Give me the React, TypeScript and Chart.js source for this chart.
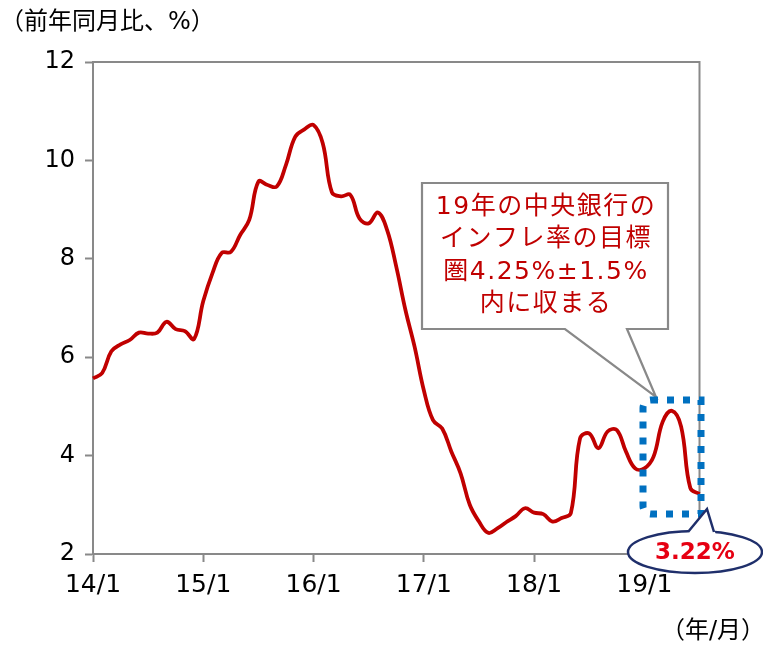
import React, { useEffect, useRef } from 'react';
import { Chart, registerables } from 'chart.js';

Chart.register(...registerables);

// ---- data ----
const years: string[] = ['14', '15', '16', '17', '18', '19'];
const monthsInLastYear = 7; // 19/1 .. 19/7
const categories: string[] = [];
years.forEach((y, yi) => {
  const n = yi === years.length - 1 ? monthsInLastYear : 12;
  for (let m = 1; m <= n; m++) categories.push(`${y}/${m}`);
});

const inflation: number[] = [
  5.57, 5.68, 6.12, 6.26, 6.35, 6.50, 6.48, 6.50, 6.72, 6.57, 6.53, 6.37,
  7.14, 7.71, 8.12, 8.14, 8.48, 8.79, 9.57, 9.50, 9.47, 9.91, 10.48, 10.63,
  10.72, 10.35, 9.35, 9.27, 9.30, 8.82, 8.72, 8.94, 8.59, 7.84, 6.96, 6.21,
  5.33, 4.72, 4.55, 4.08, 3.64, 3.00, 2.66, 2.43, 2.52, 2.65, 2.77, 2.93,
  2.84, 2.81, 2.66, 2.73, 2.83, 4.35, 4.45, 4.15, 4.49, 4.52, 4.08, 3.74,
  3.74, 3.98, 4.69, 4.91, 4.59, 3.34, 3.22,
];

const yTicks: number[] = [2, 4, 6, 8, 10, 12];
const yAxisTitle = '（前年同月比、%）';
const xAxisTitle = '（年/月）';
const calloutLines: string[] = ['19年の中央銀行の', 'インフレ率の目標', '圏4.25%±1.5%', '内に収まる'];
const lastLabel = '3.22%';

const GRAY = '#898989';
const RED = '#C00000';
const FONT = "'DejaVu Sans', 'Noto Sans CJK JP', sans-serif";

const decorPlugin = {
  id: 'decor',
  beforeDatasetsDraw(chart: any) {
    const { ctx, chartArea } = chart;
    ctx.save();
    ctx.strokeStyle = GRAY;
    ctx.lineWidth = 2;
    ctx.beginPath();
    ctx.moveTo(chartArea.left, chartArea.top);
    ctx.lineTo(chartArea.right, chartArea.top);
    ctx.lineTo(chartArea.right, chartArea.bottom);
    ctx.stroke();
    ctx.restore();
  },
  afterDraw(chart: any) {
    const { ctx } = chart;
    ctx.save();
    // axis titles
    ctx.fillStyle = '#000';
    ctx.font = `24px ${FONT}`;
    ctx.textBaseline = 'middle';
    ctx.textAlign = 'left';
    ctx.fillText(yAxisTitle, 0, 23);
    ctx.font = `24px ${FONT}`;
    ctx.textAlign = 'right';
    ctx.fillText(xAxisTitle, 765, 632);

    // callout box with tail
    ctx.beginPath();
    ctx.moveTo(422, 183);
    ctx.lineTo(668, 183);
    ctx.lineTo(668, 329);
    ctx.lineTo(627, 329);
    ctx.lineTo(656, 397);
    ctx.lineTo(565, 329);
    ctx.lineTo(422, 329);
    ctx.closePath();
    ctx.fillStyle = '#fff';
    ctx.fill();
    ctx.strokeStyle = GRAY;
    ctx.lineWidth = 2.2;
    ctx.stroke();

    ctx.fillStyle = RED;
    ctx.font = `25px ${FONT}`;
    (ctx as any).letterSpacing = '1.5px';
    ctx.textAlign = 'center';
    const lineYs = [207, 239, 272, 304];
    calloutLines.forEach((t, i) => ctx.fillText(t, 546, lineYs[i]));
    (ctx as any).letterSpacing = '0px';

    // dotted rounded rectangle
    ctx.beginPath();
    const rx0 = 643, ry0 = 400, rx1 = 701, ry1 = 514, r = 8;
    ctx.moveTo(rx0 + r, ry0);
    ctx.lineTo(rx1, ry0);
    ctx.lineTo(rx1, ry1);
    ctx.lineTo(rx0 + r, ry1);
    ctx.arcTo(rx0, ry1, rx0, ry1 - r, r);
    ctx.lineTo(rx0, ry0 + r);
    ctx.arcTo(rx0, ry0, rx0 + r, ry0, r);
    ctx.closePath();
    ctx.setLineDash([7, 9]);
    ctx.strokeStyle = '#0070C0';
    ctx.lineWidth = 7;
    ctx.stroke();
    ctx.setLineDash([]);

    // ellipse label
    const cx = 695, cy = 552, ex = 67, ey = 21;
    ctx.beginPath();
    ctx.ellipse(cx, cy, ex, ey, 0, 0, Math.PI * 2);
    ctx.fillStyle = '#fff';
    ctx.fill();
    ctx.strokeStyle = '#1F2F6B';
    ctx.lineWidth = 2.5;
    ctx.stroke();
    ctx.beginPath();
    ctx.moveTo(686, 535);
    ctx.lineTo(707, 509);
    ctx.lineTo(716, 535);
    ctx.closePath();
    ctx.fillStyle = '#fff';
    ctx.fill();
    ctx.beginPath();
    ctx.moveTo(688, 532);
    ctx.lineTo(707, 509);
    ctx.lineTo(714, 532);
    ctx.stroke();

    ctx.fillStyle = '#E60012';
    ctx.font = `bold 23px ${FONT}`;
    ctx.textAlign = 'center';
    ctx.fillText(lastLabel, cx, cy + 1);
    ctx.restore();
  },
};

export default function App() {
  const ref = useRef<HTMLCanvasElement | null>(null);
  useEffect(() => {
    if (!ref.current) return;
    const chart = new Chart(ref.current, {
      type: 'line',
      data: {
        labels: categories,
        datasets: [
          {
            data: inflation,
            borderColor: RED,
            borderWidth: 3.8,
            pointRadius: 0,
            tension: 0.4,
            fill: false,
          },
        ],
      },
      options: {
        animation: false,
        responsive: false,
        devicePixelRatio: 1,
        layout: { padding: { top: 62, right: 63.5, left: 0, bottom: 0 } },
        plugins: { legend: { display: false }, tooltip: { enabled: false } },
        scales: {
          x: {
            type: 'category',
            offset: false,
            afterFit: (s: any) => {
              s.height = 91;
            },
            grid: {
              display: true,
              drawOnChartArea: false,
              drawTicks: true,
              tickLength: 8,
              tickWidth: 2,
              tickColor: (c: any) => (c.index % 12 === 0 ? GRAY : 'rgba(0,0,0,0)'),
            },
            border: { display: true, color: GRAY, width: 2 },
            ticks: {
              autoSkip: false,
              maxRotation: 0,
              minRotation: 0,
              padding: 8,
              color: '#000',
              font: { family: FONT, size: 25 },
              callback: (_v: any, i: number) => (i % 12 === 0 ? categories[i] : ''),
            },
          },
          y: {
            min: yTicks[0],
            max: yTicks[yTicks.length - 1],
            afterFit: (s: any) => {
              s.width = 93;
            },
            afterBuildTicks: (s: any) => {
              s.ticks = yTicks.map((v) => ({ value: v }));
            },
            grid: {
              display: true,
              drawOnChartArea: false,
              drawTicks: true,
              tickLength: 8,
              tickWidth: 2,
              tickColor: GRAY,
            },
            border: { display: true, color: GRAY, width: 2 },
            ticks: {
              padding: 10,
              color: '#000',
              font: { family: FONT, size: 24 },
            },
          },
        },
      },
      plugins: [decorPlugin],
    });
    return () => chart.destroy();
  }, []);
  return (
    <div style={{ position: 'fixed', left: 0, top: 0, width: 763, height: 645, background: '#fff' }}>
      <canvas ref={ref} width={763} height={645} style={{ display: 'block' }} />
    </div>
  );
}
